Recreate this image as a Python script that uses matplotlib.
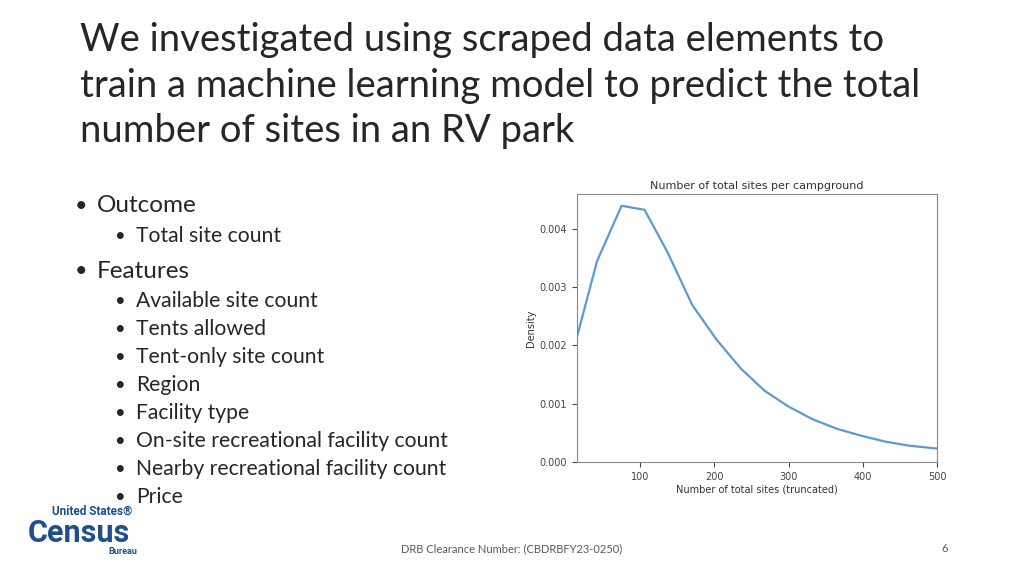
import matplotlib
matplotlib.use("Agg")
import matplotlib.pyplot as plt

x_sites = [15, 42, 75, 106, 137, 170, 203, 236, 268, 300, 333, 365, 398, 430, 462, 500]
density = [0.00215, 0.00345, 0.0044, 0.00433, 0.0036, 0.0027, 0.0021, 0.0016, 0.00122,
           0.00095, 0.00073, 0.00057, 0.00045, 0.00035, 0.00028, 0.00023]
x_ticks = [100, 200, 300, 400, 500]
y_ticks = [0.000, 0.001, 0.002, 0.003, 0.004]

fig = plt.figure(figsize=(10.24, 5.76), dpi=100)
fig.patch.set_facecolor("white")
F = "Lato"
title_lines = ["We investigated using scraped data elements to",
               "train a machine learning model to predict the total",
               "number of sites in an RV park"]
for i, line in enumerate(title_lines):
    fig.text(0.078, 1 - (40 + 45.5 * i) / 576, line, fontsize=27.5, family=F, color="#262626", va="center")

items = [(0, "Outcome"), (1, "Total site count"), (0, "Features"), (1, "Available site count"),
         (1, "Tents allowed"), (1, "Tent-only site count"), (1, "Region"), (1, "Facility type"),
         (1, "On-site recreational facility count"), (1, "Nearby recreational facility count"), (1, "Price")]
ys = [206, 236, 271, 301, 329, 357, 385, 413, 441, 469, 497]
for (lvl, t), y in zip(items, ys):
    xb = 0.073 if lvl == 0 else 0.111
    xt = 0.0947 if lvl == 0 else 0.1328
    fs = 17.5 if lvl == 0 else 15.2
    fig.text(xb, 1 - y / 576, "•", fontsize=fs - 2, family=F, va="center", color="#262626")
    fig.text(xt, 1 - y / 576, t, fontsize=fs, family=F, va="center", color="#262626")

fig.text(0.5, 1 - 549 / 576, "DRB Clearance Number: (CBDRBFY23-0250)", fontsize=8, family=F,
         ha="center", va="center", color="#595959")
fig.text(0.922, 1 - 549 / 576, "6", fontsize=8, family=F, ha="center", va="center", color="#595959")
# logo
fig.text(0.051, 1 - 511 / 576, "United States®", fontsize=8.5, weight="bold", color="#1f4e8c", va="center", family="Roboto")
fig.text(0.027, 1 - 533 / 576, "Census", fontsize=22, weight="bold", color="#1f4e8c", va="center", family="Roboto")
fig.text(0.106, 1 - 551 / 576, "Bureau", fontsize=6.5, weight="bold", color="#1f4e8c", va="center", family="Roboto")

ax = fig.add_axes([0.5635, 0.198, 0.3516, 0.465])
ax.plot(x_sites, density, color="#5b9bd0", lw=1.6)
ax.set_xlim(15, 500)
ax.set_ylim(0, 0.0046)
ax.set_xticks(x_ticks)
ax.set_yticks(y_ticks)
ax.set_yticklabels([f"{v:.3f}" for v in y_ticks])
ax.tick_params(labelsize=7, colors="#444444")
for s in ax.spines.values():
    s.set_color("#888888")
ax.set_title("Number of total sites per campground", fontsize=8, color="#333333", pad=4)
ax.set_xlabel("Number of total sites (truncated)", fontsize=7, color="#333333", labelpad=2)
ax.set_ylabel("Density", fontsize=7, color="#333333", labelpad=3)
fig.savefig("out.png", dpi=100)
